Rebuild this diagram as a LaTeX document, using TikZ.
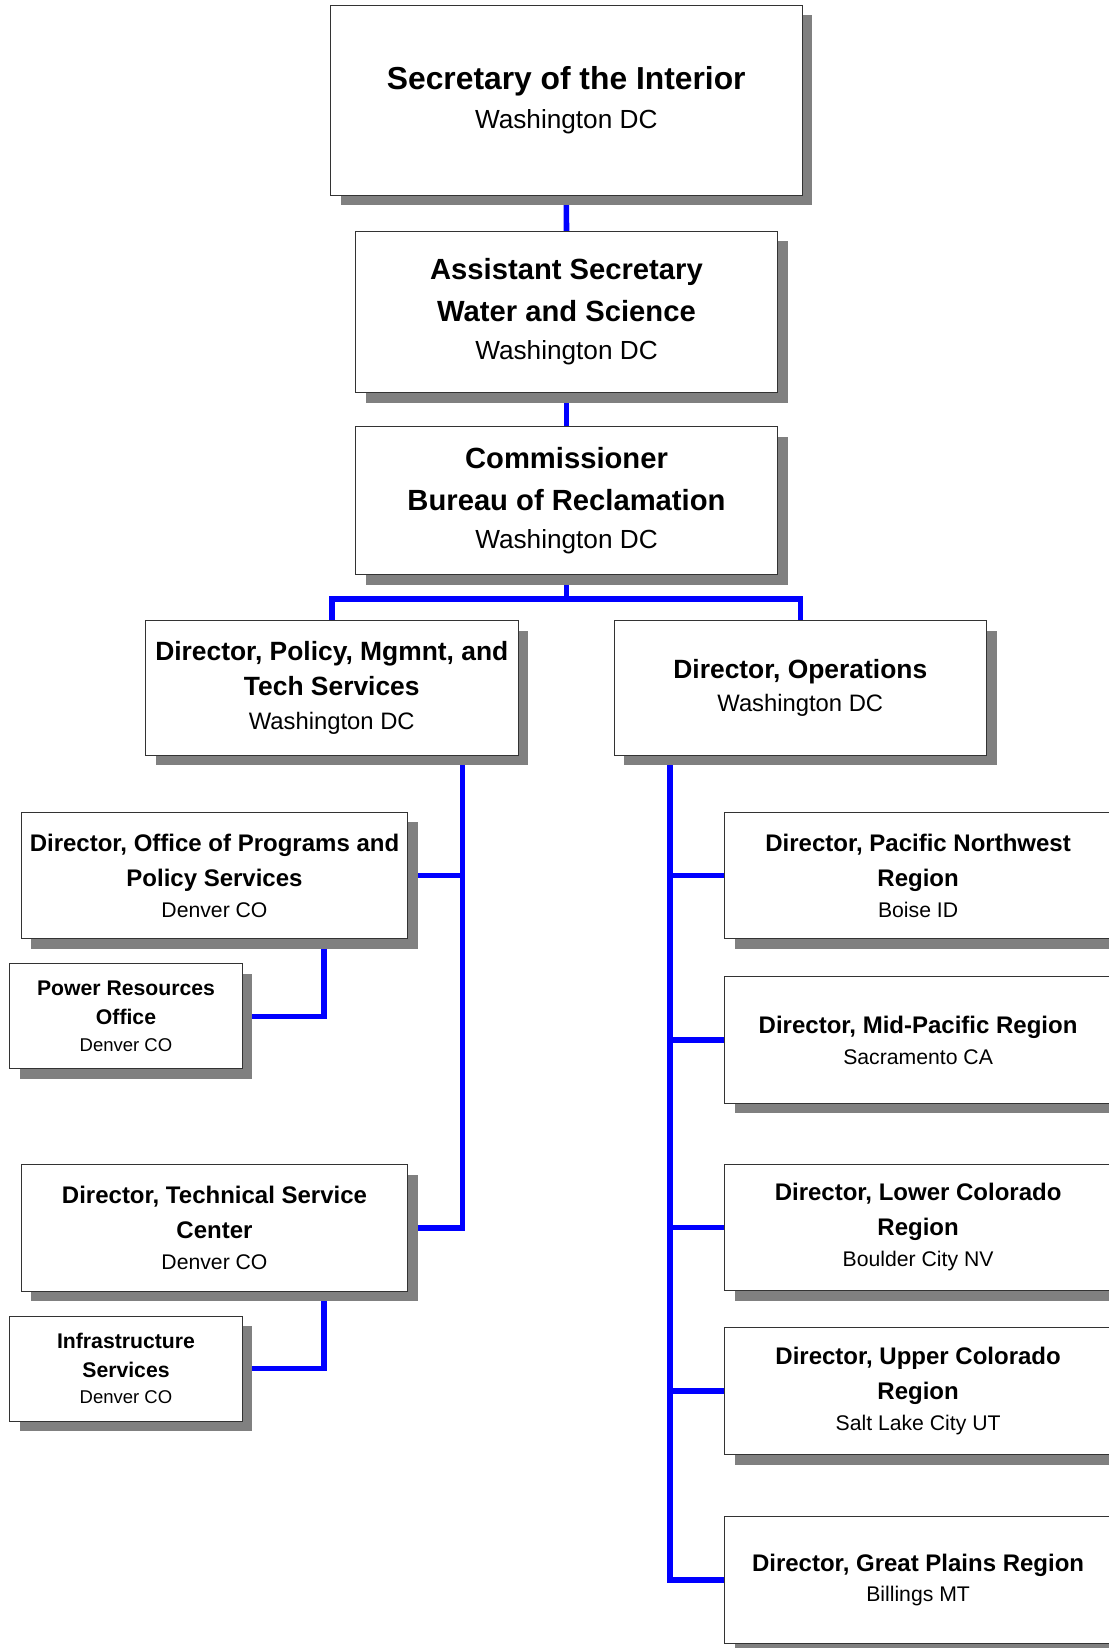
\documentclass[tikz,border=0pt]{standalone}
\usepackage{fontspec}
\setmainfont{Liberation Sans}
\usetikzlibrary{shadows,backgrounds}
\newcommand{\cityline}[2]{{\mdseries\fontsize{#1}{#1}\selectfont #2}}
\tikzstyle{orgbox}=[draw=black!80, line width=0.5pt, fill=white, inner sep=0pt, anchor=north west, align=center, drop shadow={shadow xshift=5pt, shadow yshift=-5pt, fill=black!50, opacity=1}]
\tikzstyle{secbox}=[orgbox, minimum width=235.75pt, minimum height=95pt, font=\bfseries\fontsize{15.9}{19.5}\selectfont]
\tikzstyle{hqbox}=[orgbox, minimum width=211pt, font=\bfseries\fontsize{14.6}{20.8}\selectfont]
\tikzstyle{dirbox}=[orgbox, minimum width=186.3pt, minimum height=67.3pt, font=\bfseries\fontsize{13.2}{17.3}\selectfont]
\tikzstyle{regbox}=[orgbox, minimum width=193.3pt, minimum height=63.3pt, font=\bfseries\fontsize{12}{17.5}\selectfont]
\tikzstyle{subbox}=[orgbox, minimum width=116.2pt, minimum height=52.5pt, font=\bfseries\fontsize{10.6}{14.5}\selectfont]
\tikzstyle{link}=[blue, line width=2.8pt]

\begin{document}
\begin{tikzpicture}[x=0.5pt, y=-0.5pt]
\useasboundingbox (0,0) rectangle (1108,1648);
% Washington offices
    \node[secbox] (sec) at (330,5) {Secretary of the Interior\\ \cityline{13.1}{Washington DC}};
    \node[hqbox, minimum height=80.5pt] (asst) at (355,231) {Assistant Secretary\\ Water and Science\\[-1.7pt] \cityline{13.1}{Washington DC}};
    \node[hqbox, minimum height=74pt] (comm) at (355,426) {Commissioner\\ Bureau of Reclamation\\[-1.7pt] \cityline{13.1}{Washington DC}};
    \node[dirbox] (pol) at (145,620) {Director, Policy, Mgmnt, and\\ Tech Services\\[-0.5pt] \cityline{11.9}{Washington DC}};
    \node[dirbox] (ops) at (613.5,620) {Director, Operations\\[-1pt] \cityline{11.9}{Washington DC}};
% Denver offices
    \node[regbox] (off) at (20.7,811.7) {Director, Office of Programs and\\ Policy Services\\[-2pt] \cityline{10.6}{Denver CO}};
    \node[subbox] (pwr) at (9.3,963.3) {Power Resources\\ Office\\[-1.2pt] \cityline{9.25}{Denver CO}};
    \node[regbox] (tsc) at (20.7,1164) {Director, Technical Service\\ Center\\[-2pt] \cityline{10.6}{Denver CO}};
    \node[subbox] (inf) at (9.3,1315.5) {Infrastructure\\ Services\\[-1.2pt] \cityline{9.25}{Denver CO}};
% Regions
    \node[regbox] (pnw) at (724.3,811.7) {Director, Pacific Northwest\\ Region\\[-2pt] \cityline{10.6}{Boise ID}};
    \node[regbox] (mid) at (724.3,976.3) {Director, Mid-Pacific Region\\[-2.2pt] \cityline{10.6}{Sacramento CA}};
    \node[regbox] (lc) at (724.3,1163.5) {Director, Lower Colorado\\ Region\\[-2pt] \cityline{10.6}{Boulder City NV}};
    \node[regbox] (uc) at (724.3,1327.4) {Director, Upper Colorado\\ Region\\[-2pt] \cityline{10.6}{Salt Lake City UT}};
    \node[regbox] (gp) at (724.3,1516) {Director, Great Plains Region\\[-2.2pt] \cityline{10.6}{Billings MT}};
% Lines
\begin{scope}[on background layer]
    \draw[link] (sec.south) -- (asst.north);
    \draw[link] (asst.south) -- (comm.north);
    \path (comm.south) ++(0,24) coordinate (bus);
    \draw[link] (comm.south) -- (bus);
    \draw[link] (pol.north) |- (bus) -| (ops.north);
    \path (pol.south west) ++(317.3,0) coordinate (ltop);
    \draw[link] (ltop) |- (tsc.east);
    \draw[link] (off.east) -- (off.east -| ltop);
    \path (off.south west) ++(303.3,0) coordinate (odrop);
    \draw[link] (odrop) |- (pwr.east);
    \path (tsc.south west) ++(303.3,0) coordinate (tdrop);
    \draw[link] (tdrop) |- (inf.east);
    \path (ops.south west) ++(56.2,0) coordinate (rtop);
    \draw[link] (rtop) |- (gp.west);
    \foreach \r in {pnw,mid,lc,uc}
        \draw[link] (\r.west -| rtop) -- (\r.west);
\end{scope}
\end{tikzpicture}
\end{document}
